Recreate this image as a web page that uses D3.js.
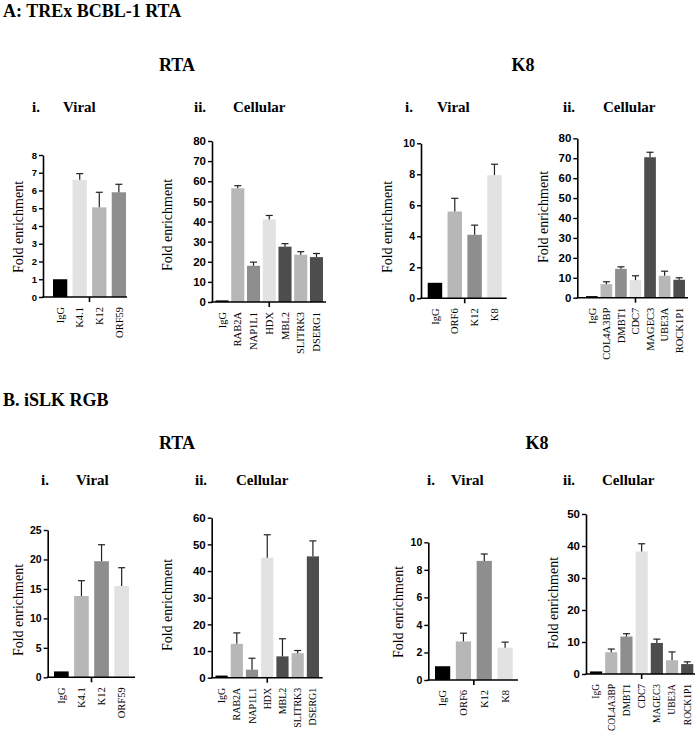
<!DOCTYPE html>
<html><head><meta charset="utf-8">
<script src="https://cdn.jsdelivr.net/npm/d3@7"></script>
<style>body{margin:0;background:#fff}svg{display:block}</style>
</head><body>
<script>
// ---------------- DATA ----------------
const aRtaViralCats = ["IgG","K4.1","K12","ORF59"];
const aRtaViralVals = [1, 6.6, 5.05, 5.9];
const aRtaViralErr  = [0, 0.35, 0.85, 0.45];
const aRtaViralTicks = [0,1,2,3,4,5,6,7,8];

const aRtaCellCats = ["IgG","RAB2A","NAP1L1","HDX","MBL2","SLITRK3","DSERG1"];
const aRtaCellVals = [0.8, 56.5, 18, 41, 27.5, 23.5, 22.3];
const aRtaCellErr  = [0, 1.3, 1.8, 2, 1.5, 1.5, 1.8];
const aRtaCellTicks = [0,10,20,30,40,50,60,70,80];

const aK8ViralCats = ["IgG","ORF6","K12","K8"];
const aK8ViralVals = [1, 5.6, 4.1, 7.95];
const aK8ViralErr  = [0, 0.85, 0.62, 0.7];
const aK8ViralTicks = [0,2,4,6,8,10];

const aK8CellCats = ["IgG","COL4A3BP","DMBT1","CDC7","MAGEC3","UBE3A","ROCK1P1"];
const aK8CellVals = [0.8, 6.8, 14.5, 8.8, 70.5, 11, 9];
const aK8CellErr  = [0, 1.2, 1.0, 2.2, 2.5, 2.3, 1.0];
const aK8CellTicks = [0,10,20,30,40,50,60,70,80];

const bRtaViralCats = ["IgG","K4.1","K12","ORF59"];
const bRtaViralVals = [1, 13.8, 19.7, 15.5];
const bRtaViralErr  = [0, 2.6, 2.8, 3.1];
const bRtaViralTicks = [0,5,10,15,20,25];

const bRtaCellCats = ["IgG","RAB2A","NAP1L1","HDX","MBL2","SLITRK3","DSERG1"];
const bRtaCellVals = [0.8, 12.7, 3, 45, 8, 9.2, 45.5];
const bRtaCellErr  = [0, 4.1, 4.3, 8.6, 6.6, 1.0, 5.8];
const bRtaCellTicks = [0,10,20,30,40,50,60];

const bK8ViralCats = ["IgG","ORF6","K12","K8"];
const bK8ViralVals = [1, 2.8, 8.65, 2.35];
const bK8ViralErr  = [0, 0.6, 0.5, 0.4];
const bK8ViralTicks = [0,2,4,6,8,10];

const bK8CellCats = ["IgG","COL4A3BP","DMBT1","CDC7","MAGEC3","UBE3A","ROCK1P1"];
const bK8CellVals = [0.8, 6.8, 11.7, 38.3, 9.7, 4.3, 3.1];
const bK8CellErr  = [0, 1.0, 0.9, 2.4, 1.2, 2.6, 0.7];
const bK8CellTicks = [0,10,20,30,40,50];

// ---------------- STYLE / LAYOUT ----------------
const BLACK="#000000", VL="#e2e2e2", LG="#b7b7b7", MG="#8e8e8e", DG="#4d4d4d";
const viralRtaColors = [BLACK, VL, LG, MG];
const viralK8Colors = [BLACK, LG, MG, VL];
const viralRtaColorsB = [BLACK, LG, MG, VL];
const cellColors = [BLACK, LG, MG, VL, DG, LG, DG];

const W=700, H=734;
const svg = d3.select("body").append("svg").attr("width",W).attr("height",H);
const serif = "'Liberation Serif','Times New Roman',serif";
const sans = "'Liberation Sans',Arial,sans-serif";

function text(x,y,s,size,opts={}){
  return svg.append("text").attr("x",x).attr("y",y).text(s)
    .style("font-family",opts.family||serif).style("font-size",size+"px")
    .style("font-weight",opts.weight||"bold").attr("text-anchor",opts.anchor||"start")
    .attr("fill","#000");
}

// headers
text(3,17,"A: TREx BCBL-1 RTA",18);
text(177,71,"RTA",18,{anchor:"middle"});
text(523,71,"K8",18,{anchor:"middle"});
text(32,112,"i.",15); text(63,112,"Viral",15);
text(194,112,"ii.",15); text(233,112,"Cellular",15);
text(405,112,"i.",15); text(437,112,"Viral",15);
text(563,112,"ii.",15); text(603,112,"Cellular",15);

text(3,406,"B. iSLK RGB",18);
text(177,449,"RTA",18,{anchor:"middle"});
text(537,449,"K8",18,{anchor:"middle"});
text(41,485,"i.",15); text(76,485,"Viral",15);
text(195,485,"ii.",15); text(236,485,"Cellular",15);
text(427,485,"i.",15); text(451,485,"Viral",15);
text(563,485,"ii.",15); text(602,485,"Cellular",15);

function panel(cfg){
  const {cats, vals, err, ticks, colors, ax, top, bottom, b0, b1, axEnd, pad, labX, labY, tickFont, catFont} = cfg;
  const g = svg.append("g");
  const y = d3.scaleLinear().domain([0, d3.max(ticks)]).range([bottom, top]);
  const x = d3.scaleBand().domain(cats).range([b0,b1]).paddingInner(pad).paddingOuter(0);
  // bars
  g.selectAll("rect.bar").data(cats).join("rect").attr("class","bar")
    .attr("x",d=>x(d)).attr("width",x.bandwidth())
    .attr("y",(d,i)=>y(vals[i])).attr("height",(d,i)=>y(0)-y(vals[i]))
    .attr("fill",(d,i)=>colors[i]);
  // error bars
  const idx = d=>cats.indexOf(d);
  const eb = g.selectAll("g.err").data(cats.filter((d,i)=>err[i]>0)).join("g");
  eb.append("line")
    .attr("x1",d=>x(d)+x.bandwidth()/2).attr("x2",d=>x(d)+x.bandwidth()/2)
    .attr("y1",d=>y(vals[idx(d)])).attr("y2",d=>y(vals[idx(d)]+err[idx(d)]))
    .attr("stroke","#222").attr("stroke-width",1.2);
  eb.append("line")
    .attr("x1",d=>x(d)+x.bandwidth()/2-3.5).attr("x2",d=>x(d)+x.bandwidth()/2+3.5)
    .attr("y1",d=>y(vals[idx(d)]+err[idx(d)])).attr("y2",d=>y(vals[idx(d)]+err[idx(d)]))
    .attr("stroke","#222").attr("stroke-width",1.2);
  // y axis
  const ya = g.append("g").attr("transform",`translate(${ax},0)`)
    .call(d3.axisLeft(y).tickValues(ticks).tickSize(4).tickSizeOuter(0).tickPadding(2).tickFormat(d3.format("d")));
  ya.select(".domain").attr("stroke","#000").attr("stroke-width",1.6);
  ya.selectAll(".tick line").attr("stroke","#000").attr("stroke-width",1.4);
  ya.selectAll(".tick text").style("font-family",sans).style("font-weight","bold")
    .style("font-size",tickFont+"px").attr("fill","#000");
  // x axis line
  g.append("line").attr("x1",ax-0.8).attr("x2",axEnd).attr("y1",bottom).attr("y2",bottom)
    .attr("stroke","#000").attr("stroke-width",1.6);
  const mid = (b0+b1)/2;
  g.append("line").attr("x1",mid).attr("x2",mid).attr("y1",bottom).attr("y2",bottom+5)
    .attr("stroke","#000").attr("stroke-width",1.6);
  // category labels
  g.selectAll("text.cat").data(cats).join("text").attr("class","cat")
    .attr("transform",d=>`translate(${x(d)+x.bandwidth()/2},${bottom+10}) rotate(-90)`)
    .attr("dy","0.35em").attr("text-anchor","end")
    .style("font-family",serif).style("font-size",catFont+"px").attr("fill","#000").text(d=>d);
  // y label
  g.append("text").attr("transform",`translate(${labX},${labY}) rotate(-90)`)
    .attr("text-anchor","middle").attr("dy","0.35em")
    .style("font-family",serif).style("font-size","14px").attr("fill","#000").text("Fold enrichment");
}

panel({cats:aRtaViralCats, vals:aRtaViralVals, err:aRtaViralErr, ticks:aRtaViralTicks, colors:viralRtaColors,
  ax:43, top:155, bottom:297, b0:53, b1:126, axEnd:127, pad:0.27, labX:18, labY:227, tickFont:9.5, catFont:10.5});
panel({cats:aRtaCellCats, vals:aRtaCellVals, err:aRtaCellErr, ticks:aRtaCellTicks, colors:cellColors,
  ax:212, top:141, bottom:302, b0:215.5, b1:323, axEnd:326, pad:0.17, labX:167, labY:225, tickFont:11.5, catFont:10.5});
panel({cats:aK8ViralCats, vals:aK8ViralVals, err:aK8ViralErr, ticks:aK8ViralTicks, colors:viralK8Colors,
  ax:421, top:143.3, bottom:298.3, b0:427.7, b1:501.7, axEnd:506.7, pad:0.27, labX:387, labY:227, tickFont:10.5, catFont:10.5});
panel({cats:aK8CellCats, vals:aK8CellVals, err:aK8CellErr, ticks:aK8CellTicks, colors:cellColors,
  ax:577.3, top:138.3, bottom:297.7, b0:586, b1:685, axEnd:688, pad:0.2, labX:543, labY:217, tickFont:11.5, catFont:10.5});

panel({cats:bRtaViralCats, vals:bRtaViralVals, err:bRtaViralErr, ticks:bRtaViralTicks, colors:viralRtaColorsB,
  ax:47.7, top:530, bottom:677.3, b0:54, b1:129, axEnd:135, pad:0.27, labX:18, labY:610, tickFont:10.5, catFont:10.5});
panel({cats:bRtaCellCats, vals:bRtaCellVals, err:bRtaCellErr, ticks:bRtaCellTicks, colors:cellColors,
  ax:211.7, top:517.7, bottom:677.7, b0:215.5, b1:319, axEnd:322.7, pad:0.2, labX:167, labY:605, tickFont:11.5, catFont:10});
panel({cats:bK8ViralCats, vals:bK8ViralVals, err:bK8ViralErr, ticks:bK8ViralTicks, colors:viralK8Colors,
  ax:428.3, top:542.3, bottom:680, b0:435, b1:512.7, axEnd:518, pad:0.27, labX:398, labY:612, tickFont:10.5, catFont:10.5});
panel({cats:bK8CellCats, vals:bK8CellVals, err:bK8CellErr, ticks:bK8CellTicks, colors:cellColors,
  ax:586, top:514, bottom:674, b0:590, b1:693.3, axEnd:695, pad:0.2, labX:553, labY:603, tickFont:11.5, catFont:9.5});
</script>
</body></html>
